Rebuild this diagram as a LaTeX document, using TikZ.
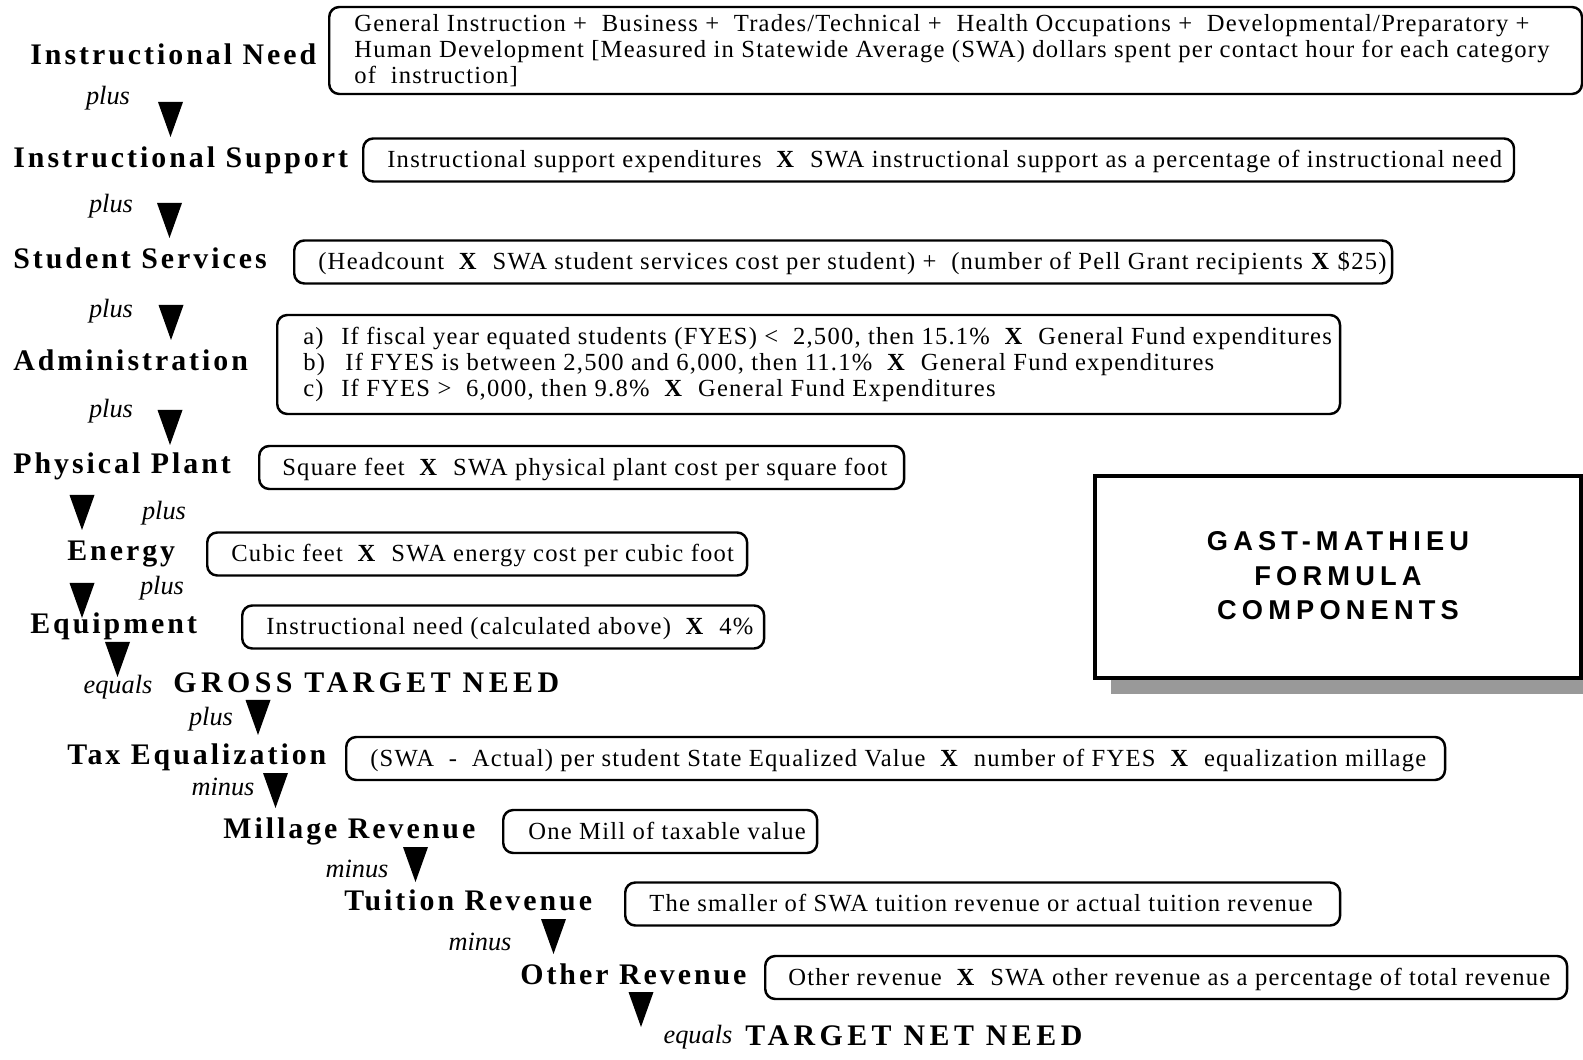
\documentclass[tikz,border=0pt]{standalone}
\usepackage{fontspec}
\setmainfont{Liberation Serif}
\newfontfamily\boxfam{Liberation Serif}[LetterSpace=5]
\newfontfamily\labelfam{Liberation Serif}[LetterSpace=10]
\newfontfamily\totalfam{Liberation Serif}[LetterSpace=15]
\newfontfamily\titlefam{Liberation Sans}[LetterSpace=19]
\usetikzlibrary{positioning,shadows}
\begin{document}
\begin{tikzpicture}[x=0.02cm,y=-0.02cm,
  comp/.style={font=\fontsize{17pt}{20pt}\selectfont\labelfam\bfseries,inner sep=0pt,anchor=base west},
  total/.style={font=\fontsize{17pt}{20pt}\selectfont\totalfam\bfseries,inner sep=0pt,anchor=base west},
  op/.style={font=\fontsize{15pt}{18pt}\selectfont\itshape,inner sep=0pt,anchor=base},
  formula box/.style={draw,line width=1.4pt,rounded corners=.2cm,minimum height=.86cm,inner sep=0pt,anchor=west},
  ftext/.style={font=\fontsize{14pt}{14.8pt}\selectfont\boxfam,inner sep=0pt,text height=.66em,text depth=0pt,yshift=-.04cm},
  flines/.style={font=\fontsize{14pt}{14.8pt}\selectfont\boxfam,inner sep=0pt,align=left},
  title box/.style={draw,line width=2.3pt,fill=white,minimum width=9.72cm,minimum height=4.04cm,
    align=center,font=\fontsize{15.5pt}{19.8pt}\selectfont\titlefam\bfseries,
    drop shadow={shadow xshift=.32cm,shadow yshift=-.32cm,fill=black!40,opacity=1}}]
\useasboundingbox (0,0) rectangle (1583,1060);

% components of the formula
\node[comp] (need) at (30,64.5) {Instructional Need};
\node[comp] (support) at (13,167.5) {Instructional Support};
\node[comp] (services) at (13,268.5) {Student Services};
\node[comp] (admin) at (13,370.5) {Administration};
\node[comp] (plant) at (13,473.5) {Physical Plant};
\node[comp] (energy) at (67,561) {Energy};
\node[comp] (equip) at (30,634) {Equipment};
\node[total] (gross) at (173,692.5) {GROSS TARGET NEED};
\node[comp] (taxeq) at (67,765) {Tax Equalization};
\node[comp] (millage) at (223,838) {Millage Revenue};
\node[comp] (tuition) at (344,910.5) {Tuition Revenue};
\node[comp] (other) at (520,984) {Other Revenue};
\node[total] (net) at (745,1045) {TARGET NET NEED};

% plus / minus / equals
\node[op] (op1) at (108,105) {plus};
\node[op] (op2) at (111,213) {plus};
\node[op] (op3) at (111,318) {plus};
\node[op] (op4) at (111,418) {plus};
\node[op] (op5) at (164,520) {plus};
\node[op] (op6) at (162,594.5) {plus};
\node[op] (op7) at (118,693.5) {equals};
\node[op] (op8) at (211,725) {plus};
\node[op] (op9) at (223,795.5) {minus};
\node[op] (op10) at (357,877) {minus};
\node[op] (op11) at (480,950) {minus};
\node[op] (op12) at (698,1043) {equals};

\foreach \x/\y in {170.5/102,169.5/203,171/305,170/410,82/495,82/583,117.5/642,
                   258/700,275.5/773,415.5/847,553.5/919,641/992}
  \fill (\x-12.5,\y) -- ++(25,0) -- ++(-12.5,35) -- cycle;

% how each one is computed
\node[formula box,minimum width=25.06cm,minimum height=1.74cm] (need box) at (328,50.5) {};
\node[flines,right=.52cm of need box.west] (need text) {General Instruction +\ \ Business +\ \ Trades/Technical +\ \ Health Occupations +\ \ Developmental/Preparatory +\\
  Human Development [Measured in Statewide Average (SWA) dollars spent per contact hour for each category\\
  of\ \ instruction]};

\node[formula box,minimum width=23.02cm] (support box) at (362,160) {};
\node[ftext,right=.5cm of support box.west] (support text) {Instructional support expenditures\ \ \textbf{X}\ \ SWA instructional support as a percentage of instructional need};

\node[formula box,minimum width=21.96cm] (services box) at (293,262) {};
\node[ftext,right=.5cm of services box.west] (services text) {(Headcount\ \ \textbf{X}\ \ SWA student services cost per student) +\ \ (number of Pell Grant recipients \textbf{X} \$25)};

\node[formula box,minimum width=21.26cm,minimum height=1.98cm] (admin box) at (276,364.5) {};
\node[flines,right=.54cm of admin box.west] (admin text) {\makebox[.76cm][l]{a)}If fiscal year equated students (FYES) <\ \ 2,500, then 15.1\%\ \ \textbf{X}\ \ General Fund expenditures\\
  \makebox[.76cm][l]{b)}\,If FYES is between 2,500 and 6,000, then 11.1\%\ \ \textbf{X}\ \ General Fund expenditures\\
  \makebox[.76cm][l]{c)}If FYES >\ \ 6,000, then 9.8\%\ \ \textbf{X}\ \ General Fund Expenditures};

\node[formula box,minimum width=12.9cm] (plant box) at (258,467.5) {};
\node[ftext,right=.48cm of plant box.west] (plant text) {Square feet\ \ \textbf{X}\ \ SWA physical plant cost per square foot};

\node[formula box,minimum width=10.8cm] (energy box) at (206,554) {};
\node[ftext,right=.5cm of energy box.west] (energy text) {Cubic feet\ \ \textbf{X}\ \ SWA energy cost per cubic foot};

\node[formula box,minimum width=10.44cm] (equip box) at (241,627) {};
\node[ftext,right=.5cm of equip box.west] (equip text) {Instructional need (calculated above)\ \ \textbf{X}\ \ 4\%};

\node[formula box,minimum width=21.98cm] (taxeq box) at (345,758.5) {};
\node[ftext,right=.5cm of taxeq box.west] (taxeq text) {(SWA\ \ -\ \ Actual) per student State Equalized Value\ \ \textbf{X}\ \ number of FYES\ \ \textbf{X}\ \ equalization millage};

\node[formula box,minimum width=6.28cm] (millage box) at (502,831.5) {};
\node[ftext,right=.52cm of millage box.west] (millage text) {One Mill of taxable value};

\node[formula box,minimum width=14.3cm] (tuition box) at (624,904) {};
\node[ftext,right=.5cm of tuition box.west] (tuition text) {The smaller of SWA tuition revenue or actual tuition revenue};

\node[formula box,minimum width=16.04cm] (other box) at (764,977.5) {};
\node[ftext,right=.48cm of other box.west] (other text) {Other revenue\ \ \textbf{X}\ \ SWA other revenue as a percentage of total revenue};

% title
\node[title box] (title) at (1338,577) {\raisebox{.06cm}{GAST-MATHIEU}\\\raisebox{.06cm}{FORMULA}\\\raisebox{.06cm}{COMPONENTS}};
\end{tikzpicture}
\end{document}
